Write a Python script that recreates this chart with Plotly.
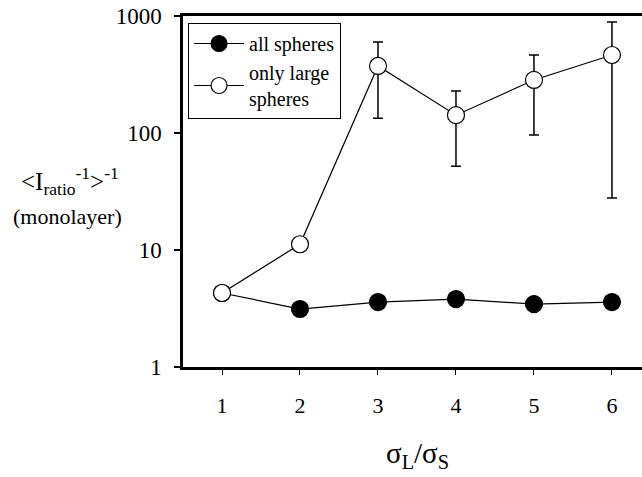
import plotly.graph_objects as go

x_vals = [1, 2, 3, 4, 5, 6]
all_spheres = [4.29, 3.13, 3.59, 3.81, 3.45, 3.59]
large_spheres = [4.29, 11.2, 374, 142, 284, 464]
large_err_top = [4.5, 12.3, 600, 228, 464, 889]
large_err_bottom = [4.1, 10.3, 134, 52, 96, 27.8]
y_tickvals = [1, 10, 100, 1000]
y_ticktext = ["1", "10", "100", "1000"]

err_plus = [t - v for t, v in zip(large_err_top, large_spheres)]
err_minus = [v - b for v, b in zip(large_spheres, large_err_bottom)]

FONT = "'Liberation Serif', 'Times New Roman', Times, serif"

fig = go.Figure()
fig.add_trace(go.Scatter(
    x=x_vals, y=all_spheres, mode="lines+markers", name="all spheres",
    line=dict(color="black", width=1.2),
    marker=dict(size=17, color="black", line=dict(color="black", width=1.2)),
))
fig.add_trace(go.Scatter(
    x=x_vals, y=large_spheres, mode="lines+markers", name="only large<br>spheres",
    line=dict(color="black", width=1.2),
    marker=dict(size=17, color="white", line=dict(color="black", width=1.2)),
    error_y=dict(type="data", symmetric=False, array=err_plus, arrayminus=err_minus,
                 color="black", thickness=1.5, width=5),
))

fig.update_layout(
    width=642, height=477,
    margin=dict(l=183, r=0, t=16, b=110),
    paper_bgcolor="white", plot_bgcolor="white",
    font=dict(family=FONT, size=20, color="black"),
    showlegend=True,
    legend=dict(
        x=0.011, y=0.98, xanchor="left", yanchor="top",
        bordercolor="black", borderwidth=1, bgcolor="white",
        font=dict(family=FONT, size=20, color="black"),
        tracegroupgap=0, itemwidth=50,
    ),
    xaxis=dict(
        range=[0.5, 6.385], tickvals=x_vals, ticktext=[str(v) for v in x_vals],
        showline=True, linecolor="black", linewidth=2.5, mirror=True,
        ticks="outside", ticklen=5, tickwidth=1, tickcolor="black",
        showgrid=False, zeroline=False, ticklabelstandoff=12,
        tickfont=dict(family=FONT, size=22),
    ),
    yaxis=dict(
        type="log", range=[0, 3], tickvals=y_tickvals, ticktext=y_ticktext,
        showline=True, linecolor="black", linewidth=2.5,
        ticks="outside", ticklen=6, tickwidth=1.5, tickcolor="black",
        showgrid=False, zeroline=False, ticklabelstandoff=8,
        tickfont=dict(family=FONT, size=23),
    ),
    annotations=[
        dict(text="&lt;I<sub>ratio</sub><sup>-1</sup>&gt;<sup>-1</sup>",
             xref="paper", yref="paper", x=-0.246, y=0.53, xanchor="center", yanchor="middle",
             showarrow=False, font=dict(family=FONT, size=25)),
        dict(text="(monolayer)",
             xref="paper", yref="paper", x=-0.252, y=0.43, xanchor="center", yanchor="middle",
             showarrow=False, font=dict(family=FONT, size=22)),
        dict(text="σ<sub>L</sub>/σ<sub>S</sub>",
             xref="paper", yref="paper", x=0.51, y=-0.25, xanchor="center", yanchor="middle",
             showarrow=False, font=dict(family=FONT, size=29)),
    ],
)

fig.write_html("out.html")
